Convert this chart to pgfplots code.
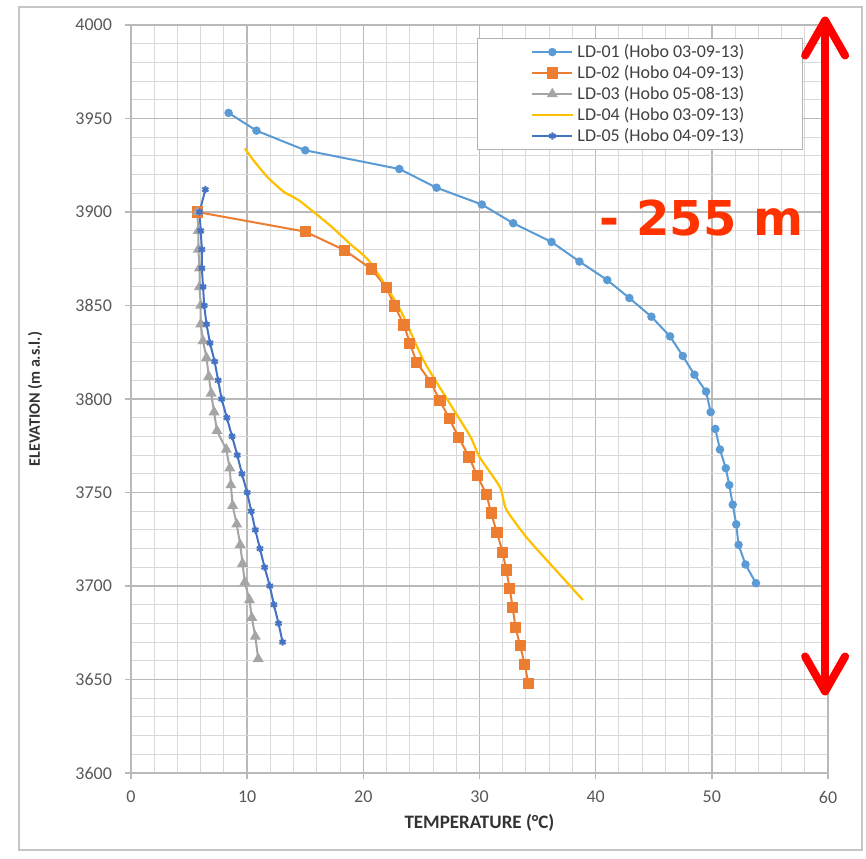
\documentclass[border=0pt]{standalone}
\usepackage{fontspec}
\setmainfont{Carlito}
\newfontfamily\annofont{DejaVu Sans}
\usepackage{pgfplots}
\pgfplotsset{compat=1.18}

\definecolor{ldone}{HTML}{5B9BD5}
\definecolor{ldtwo}{HTML}{ED7D31}
\definecolor{ldthree}{HTML}{A5A5A5}
\definecolor{ldfour}{HTML}{FFC000}
\definecolor{ldfive}{HTML}{4472C4}
\definecolor{annored}{HTML}{FF3300}
\definecolor{ticktext}{HTML}{595959}

\begin{document}
\begin{tikzpicture}
\useasboundingbox (-65.5pt,-42.5pt) rectangle (367.5pt,386.5pt);
\fill[white] (-65.5pt,-42.5pt) rectangle (367.5pt,386.5pt);
\draw[gray!45, line width=1pt] (-56pt,-38.5pt) rectangle (365.5pt,383pt);
\begin{axis}[
    width=348.5pt, height=374pt,
    scale only axis,
    clip=false,
    xmin=0, xmax=60,
    ymin=3600, ymax=4000,
    xtick distance=10, ytick distance=50,
    minor x tick num=4, minor y tick num=4,
    grid=both,
    major grid style={color=gray!55, line width=0.8pt},
    minor grid style={color=gray!30, line width=0.5pt},
    axis line style={draw=gray!55, line width=0.8pt},
    tick align=outside,
    major tick length=3pt, minor tick length=0pt,
    xtick pos=bottom, ytick pos=left,
    tick style={gray!55, line width=0.8pt},
    scaled ticks=false,
    /pgf/number format/1000 sep={},
    /pgf/number format/assume math mode=true,
    ticklabel style={font=\fontsize{9}{10}\selectfont, text=ticktext},
    yticklabel style={xshift=-3pt},
    xticklabel style={yshift=-2.5pt},
    xlabel={TEMPERATURE (°C)},
    ylabel={ELEVATION (m a.s.l.)},
    xlabel style={at={(axis description cs:0.5,-0.0668)}, anchor=center,
        font=\fontsize{9.5}{11}\selectfont\bfseries, text=black!80},
    ylabel style={at={(axis description cs:-0.1377,0.5)}, anchor=center,
        font=\fontsize{8}{9}\selectfont\bfseries, text=black!80},
    unbounded coords=jump,
    legend cell align=left,
    legend style={at={(0.964,0.9826)}, anchor=north east,
        draw=gray!60, line width=0.6pt,
        inner xsep=27pt, inner ysep=1.5pt,
        font=\fontsize{9}{10}\selectfont, text=black!75,
        nodes={inner ysep=1.2pt}},
    legend image code/.code={%
        \draw[mark repeat=2,mark phase=2,#1]
            plot coordinates {(0pt,0pt) (10pt,0pt) (20pt,0pt)};},
]

% LD-01
\addplot[color=ldone, line width=1pt, mark=*, mark size=1.6pt] coordinates {
    (8.4,3953) (10.8,3943.5) (15.0,3933) (23.1,3923) (26.3,3913)
    (30.2,3904) (32.9,3894) (36.2,3884) (38.6,3873.5) (41.0,3863.6)
    (42.9,3854) (44.8,3844) (46.4,3833.5) (47.5,3823) (48.5,3813)
    (49.5,3804) (49.9,3793) (50.1,nan) (50.3,3784) (50.7,3773)
    (51.2,3763) (51.5,3754) (51.8,3743.5) (52.1,3733) (52.3,3722)
    (52.9,3711.5) (53.8,3701.5)
};
\addlegendentry{LD-01 (Hobo 03-09-13)}

% LD-02
\addplot[color=ldtwo, line width=1pt, mark=square*, mark size=2.3pt] coordinates {
    (5.7,3900) (15.0,3889.5) (18.4,3879.5) (20.7,3869.5) (22.0,3859.5)
    (22.7,3849.7) (23.5,3839.6) (24.0,3829.8) (24.6,3819.5) (25.8,3809)
    (26.6,3799) (27.4,3789.5) (28.2,3779.5) (29.1,3769) (29.8,3759)
    (30.6,3749) (31.0,3739) (31.5,3728.5) (32.0,3718) (32.3,3708.6)
    (32.6,3698.8) (32.85,3688.6) (33.1,3678) (33.5,3668) (33.9,3658)
    (34.2,3648)
};
\addlegendentry{LD-02 (Hobo 04-09-13)}

% LD-03
\addplot[color=ldthree, line width=1pt, mark=triangle*, mark size=2.2pt] coordinates {
    (5.7,3900) (5.8,3890) (5.8,3880) (5.9,3870) (5.9,3860) (6.0,3850)
    (6.0,3840) (6.2,3831) (6.5,3822) (6.7,3812) (6.9,3803) (7.15,3793)
    (7.4,3783) (8.2,3773) (8.5,3763) (8.6,3754) (8.75,3743) (9.1,3733)
    (9.4,3722) (9.6,3712) (9.8,3702) (10.2,3692.5) (10.4,3683)
    (10.7,3673) (10.95,3661)
};
\addlegendentry{LD-03 (Hobo 05-08-13)}

% LD-04
\addplot[color=ldfour, line width=1.1pt, smooth, tension=0.4] coordinates {
    (9.8,3934) (10.5,3928) (11.7,3919) (13.1,3911) (14.5,3906)
    (17.1,3893) (18.85,3883) (20.6,3873) (23.15,3848) (25.15,3821)
    (27.2,3800) (29.2,3780) (30.0,3769) (31.75,3753) (32.3,3741)
    (34.05,3726) (36.06,3712) (38.9,3692.5)
};
\addlegendentry{LD-04 (Hobo 03-09-13)}

% LD-05
\addplot[color=ldfive, line width=1pt, mark=asterisk, mark size=1.8pt] coordinates {
    (6.4,3912) (5.9,3900) (6.0,3890) (6.1,3880) (6.1,3870) (6.2,3860)
    (6.3,3850) (6.5,3840) (6.8,3830) (7.2,3820) (7.5,3810) (7.8,3800)
    (8.25,3790) (8.7,3780) (9.15,3770) (9.55,3760) (10.0,3750)
    (10.35,3740) (10.7,3730) (11.1,3720) (11.5,3710) (11.95,3700)
    (12.3,3690) (12.7,3680) (13.05,3670)
};
\addlegendentry{LD-05 (Hobo 04-09-13)}

\coordinate (arrtop) at (axis cs:59.75,4004);
\coordinate (arrbot) at (axis cs:59.75,3642);
\node[text=annored, font=\annofont\bfseries\fontsize{24}{28}\selectfont]
    at (axis cs:49.1,3896.8) {- 255 m};
\end{axis}
% double-headed annotation arrow
\fill[red] ([xshift=-2pt,yshift=-2pt]arrtop) rectangle ([xshift=2pt,yshift=2pt]arrbot);
\draw[red, line width=4pt, line cap=round, line join=round]
    ([xshift=-10pt,yshift=-19pt]arrtop) -- ([yshift=-1.5pt]arrtop) -- ([xshift=10pt,yshift=-19pt]arrtop);
\draw[red, line width=4pt, line cap=round, line join=round]
    ([xshift=-10pt,yshift=19pt]arrbot) -- ([yshift=1.5pt]arrbot) -- ([xshift=10pt,yshift=19pt]arrbot);
\end{tikzpicture}
\end{document}
